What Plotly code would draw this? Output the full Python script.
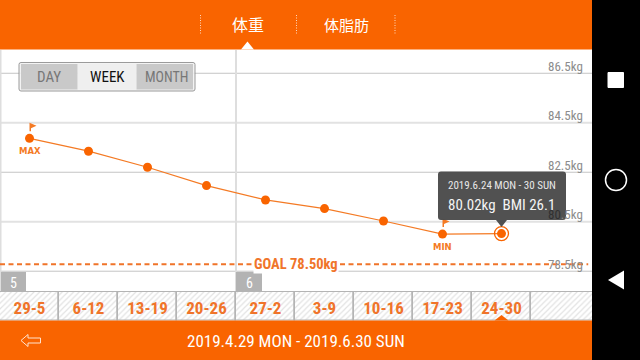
import plotly.graph_objects as go

# ---- data ----
weeks = ["29-5", "6-12", "13-19", "20-26", "27-2", "3-9", "10-16", "17-23", "24-30", ""]
weights = [83.87, 83.35, 82.70, 81.96, 81.38, 81.03, 80.53, 80.00, 80.02]
y_ticks = [86.5, 84.5, 82.5, 80.5, 78.5]
y_labels = ["86.5kg", "84.5kg", "82.5kg", "<span style='color:#303030'>80</span>.5kg", "78.5kg"]
grid_colors = ["#c4c4c4", "#e2e2e2", "#c4c4c4", "#e2e2e2", "#c4c4c4"]
grid_widths = [1, 2, 1, 2, 1]
goal_line_level = 78.78
month_marks = [("5", 1, 26), ("6", 236, 262)]

ORANGE = "#F96400"
NARROW = "Roboto Condensed, DejaVu Sans Condensed, Roboto"
W, H = 640, 360
CHART_R = 592


def px(x):
    return x / W


def py(y):
    return 1 - y / H


def rect(x0, y0, x1, y1, color, layer="above", line=None, lw=0, opacity=1):
    return dict(type="rect", xref="paper", yref="paper", x0=px(x0), x1=px(x1), y0=py(y0), y1=py(y1),
                fillcolor=color, line=dict(color=line or color, width=lw), layer=layer, opacity=opacity)


def path(points, color, layer="above", opacity=1):
    d = "M " + " L ".join(f"{px(a):.5f},{py(b):.5f}" for a, b in points) + " Z"
    return dict(type="path", xref="paper", yref="paper", path=d, fillcolor=color,
                line=dict(width=0), layer=layer, opacity=opacity)


def vline(x, y0, y1, color, width, dash="solid", layer="above"):
    return dict(type="line", xref="paper", yref="paper", x0=px(x), x1=px(x), y0=py(y0), y1=py(y1),
                line=dict(color=color, width=width, dash=dash), layer=layer)


def text(x, y, s, size, color, family=NARROW, **kw):
    return dict(xref="paper", yref="paper", x=px(x), y=py(y), text=s, showarrow=False,
                font=dict(size=size, color=color, family=family), xanchor=kw.pop("xanchor", "center"),
                yanchor="middle", **kw)


fig = go.Figure()

x_idx = list(range(len(weeks)))

# hatched week strip
fig.add_trace(go.Bar(x=x_idx, y=[1] * len(weeks), yaxis="y2", width=[1] * 9 + [2], offset=-0.5,
                     marker=dict(color="white", line=dict(color="#b4b4b4", width=1.5),
                                 pattern=dict(shape="/", fgcolor="#c6c6c6", bgcolor="white", size=4, solidity=0.3)),
                     hoverinfo="skip", showlegend=False))

# goal line
fig.add_trace(go.Scatter(x=[-0.5, 9.47], y=[goal_line_level] * 2, mode="lines",
                         line=dict(color="#F0742A", width=2, dash="5px,3.5px"),
                         hoverinfo="skip", showlegend=False))

# series
fig.add_trace(go.Scatter(x=x_idx[:len(weights)], y=weights, mode="lines+markers",
                         line=dict(color="#F47A24", width=1.2),
                         marker=dict(color=ORANGE, size=9), showlegend=False))

# current point ring
fig.add_trace(go.Scatter(x=[x_idx[len(weights) - 1]], y=[weights[-1]], mode="markers",
                         marker=dict(color="rgba(0,0,0,0)", size=14, line=dict(color=ORANGE, width=1.3)),
                         showlegend=False))

shapes = []
# gridlines
for v, c, w_ in zip(y_ticks, grid_colors, grid_widths):
    shapes.append(dict(type="line", xref="paper", yref="y", x0=0, x1=px(CHART_R), y0=v, y1=v,
                       line=dict(color=c, width=w_), layer="below"))
shapes += [vline(236, 50, 292, "#dedede", 2, layer="below"), vline(0.5, 50, 292, "#dedede", 2, layer="below")]

# top band
shapes.append(rect(0, 0, CHART_R, 49.5, ORANGE))
shapes.append(path([(241, 49.5), (247.5, 41.5), (254, 49.5)], "white"))
for x in (200.5, 296.5, 395):
    shapes.append(vline(x, 15, 34, "#FFD9BF", 1, dash="1px,1.5px"))

# bottom band
shapes.append(rect(0, 320.5, CHART_R, 360, ORANGE))
shapes.append(path([(494.5, 320.5), (501.5, 315), (508.5, 320.5)], ORANGE))
shapes.append(dict(type="path", xref="paper", yref="paper",
                   path="M " + " L ".join(f"{px(a):.5f},{py(b):.5f}" for a, b in
                                          [(21, 340.5), (28, 334.5), (28, 338), (40.5, 338), (40.5, 343),
                                           (28, 343), (28, 346.5)]) + " Z",
                   fillcolor="rgba(0,0,0,0)", line=dict(color="#FFE3CF", width=1), layer="above"))

# week-strip top border and month boxes
shapes.append(dict(type="line", xref="paper", yref="paper", x0=0, x1=px(CHART_R), y0=py(291.5), y1=py(291.5),
                   line=dict(color="#b4b4b4", width=1), layer="above"))
for _, x0, x1 in month_marks:
    shapes.append(rect(x0, 272, x1, 291, "#b3b3b3"))

# DAY / WEEK / MONTH control
shapes.append(dict(type="path", xref="paper", yref="paper", layer="above", opacity=0.9,
                   path=f"M {px(21):.5f},{py(62.5):.5f} L {px(193):.5f},{py(62.5):.5f} "
                        f"Q {px(195):.5f},{py(62.5):.5f} {px(195):.5f},{py(64.5):.5f} "
                        f"L {px(195):.5f},{py(89):.5f} Q {px(195):.5f},{py(91):.5f} {px(193):.5f},{py(91):.5f} "
                        f"L {px(21):.5f},{py(91):.5f} Q {px(19):.5f},{py(91):.5f} {px(19):.5f},{py(89):.5f} "
                        f"L {px(19):.5f},{py(64.5):.5f} Q {px(19):.5f},{py(62.5):.5f} {px(21):.5f},{py(62.5):.5f} Z",
                   fillcolor="#f2f2f2", line=dict(color="#909090", width=1)))
shapes.append(rect(21, 64, 77.5, 89.5, "#c4c4c4", opacity=0.9))
shapes.append(rect(78, 64, 136, 89.5, "#eeeeee", opacity=0.9))
shapes.append(rect(136.5, 64, 193, 89.5, "#c4c4c4", opacity=0.9))

# flags, anchored to MAX / MIN points
for idx in (weights.index(max(weights)), weights.index(min(weights))):
    shapes.append(dict(type="path", xref="x", yref="y", xsizemode="pixel", ysizemode="pixel",
                       xanchor=idx, yanchor=weights[idx], layer="above",
                       path="M 0,7 L 0,15.5 L 7,12.5 L 1.5,10 L 1.5,7 Z",
                       fillcolor="#F47A24", line=dict(width=0)))

# tooltip
shapes.append(dict(type="path", xref="paper", yref="paper", layer="above", opacity=0.96,
                   path=f"M {px(441):.5f},{py(171.5):.5f} L {px(563):.5f},{py(171.5):.5f} "
                        f"Q {px(566):.5f},{py(171.5):.5f} {px(566):.5f},{py(174.5):.5f} "
                        f"L {px(566):.5f},{py(217):.5f} Q {px(566):.5f},{py(220):.5f} {px(563):.5f},{py(220):.5f} "
                        f"L {px(507):.5f},{py(220):.5f} L {px(501.5):.5f},{py(227):.5f} L {px(496):.5f},{py(220):.5f} "
                        f"L {px(441):.5f},{py(220):.5f} Q {px(438):.5f},{py(220):.5f} {px(438):.5f},{py(217):.5f} "
                        f"L {px(438):.5f},{py(174.5):.5f} Q {px(438):.5f},{py(171.5):.5f} {px(441):.5f},{py(171.5):.5f} Z",
                   fillcolor="#4a4a4a", line=dict(width=0)))

# device nav bar
shapes.append(rect(CHART_R, 0, W, H, "#000000"))
shapes.append(dict(type="rect", xref="paper", yref="paper", x0=px(608), x1=px(623.5), y0=py(72.5), y1=py(87.5),
                   fillcolor="white", line=dict(color="white", width=1), layer="above"))
shapes.append(dict(type="circle", xref="paper", yref="paper", x0=px(605.5), x1=px(626.5), y0=py(169.5), y1=py(190.5),
                   fillcolor="rgba(0,0,0,0)", line=dict(color="white", width=1.5), layer="above"))
shapes.append(path([(608, 280), (624, 270.5), (624, 289.5)], "white"))

annotations = [
    text(248, 24.5, "体重", 16, "white", family="Noto Sans CJK JP"),
    text(346.5, 24.5, "体脂肪", 15, "white", family="Noto Sans CJK JP"),
    text(49, 77, "DAY", 15, "#777777"),
    text(107, 77, "WEEK", 15, "#111111"),
    text(166, 77, "MONTH", 14, "#777777"),
    dict(x=0, y=weights[0], xref="x", yref="y", text="<b>MAX</b>", showarrow=False, yshift=-13,
         font=dict(size=8.5, color="#F47A24", family="DejaVu Sans")),
    dict(x=7, y=min(weights), xref="x", yref="y", text="<b>MIN</b>", showarrow=False, yshift=-13,
         font=dict(size=8.5, color="#F47A24", family="DejaVu Sans")),
    text(296, 264.5, "<b>GOAL 78.50kg</b>", 14.5, "#F0742A", bgcolor="white", borderpad=0),
    text(501.5, 185.5, "2019.6.24 MON - 30 SUN", 11, "#e8e8e8"),
    text(501.5, 204.5, "80.02kg  BMI 26.1", 15, "#f4f4f4"),
    text(296, 340.5, "2019.4.29 MON - 2019.6.30 SUN", 17, "white"),
]
for label, x0, x1 in month_marks:
    annotations.append(text((x0 + x1) / 2, 282.5, label, 14, "white"))
for v, lab in zip(y_ticks, y_labels):
    annotations.append(dict(xref="paper", yref="y", x=px(585), y=v, yshift=7, text=lab, showarrow=False,
                            xanchor="right", yanchor="middle",
                            font=dict(family=NARROW, size=13, color="#8c8c8c")))

fig.update_layout(
    width=W, height=H, autosize=False,
    margin=dict(l=0, r=0, t=0, b=0),
    paper_bgcolor="white", plot_bgcolor="rgba(0,0,0,0)",
    showlegend=False, bargap=0,
    xaxis=dict(domain=[0, px(CHART_R)], range=[-0.5, 9.534], anchor="y2",
               tickmode="array", tickvals=x_idx, ticktext=[f"<b>{w}</b>" for w in weeks],
               ticklabelposition="inside", showgrid=False, zeroline=False, showline=False, ticks="",
               tickfont=dict(family=NARROW, size=17, color="#F0742A")),
    yaxis=dict(domain=[py(292), py(50)], range=[77.66, 87.44], anchor="x", showticklabels=False, ticks="",
               showgrid=False, zeroline=False),
    yaxis2=dict(domain=[py(320.5), py(292)], range=[0, 1], anchor="x", visible=False),
    shapes=shapes, annotations=annotations,
)

fig.write_html("out.html", config={"displayModeBar": False},
               post_script="document.body.style.margin='0';")
